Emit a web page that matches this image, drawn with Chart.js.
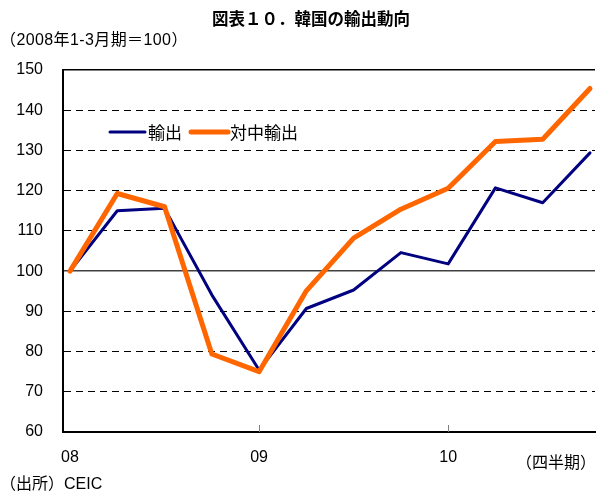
<!DOCTYPE html>
<html>
<head>
<meta charset="utf-8">
<script src="https://cdn.jsdelivr.net/npm/chart.js@4"></script>
<style>
body { margin: 0; background: #fff; }
canvas { display: block; }
</style>
</head>
<body>
<canvas id="exportChart" width="596" height="496"></canvas>
<script>
// 2008Q1 = 100, quarterly
const quarters = ["08Q1","08Q2","08Q3","08Q4","09Q1","09Q2","09Q3","09Q4","10Q1","10Q2","10Q3","10Q4"];
const exportValues = [100, 115, 115.6, 94.1, 75.4, 90.7, 95.3, 104.6, 101.8, 120.7, 117, 129.4];
const chinaValues = [100, 119.3, 116, 79.4, 75, 95.1, 108.2, 115.4, 120.6, 132.2, 132.8, 145.4];
const yearTicks = [0, 4, 8];
const yearLabels = ["08", "09", "10"];
const seriesNames = ["輸出", "対中輸出"];

const NAVY = "#000080";
const ORANGE = "#ff6600";
const latin = '"Liberation Sans", "Noto Sans CJK JP", sans-serif';
const cjk = '"Noto Sans CJK JP", sans-serif';

function toPoints(vals){
    return vals.map((v,i) => ({x: i, y: v}));
}

// title, notes, legend and inner tick marks
const extras = {
    id: "extras",
    afterDraw(chart){
        const ctx = chart.ctx;
        const xs = chart.scales.x;
        const area = chart.chartArea;
        ctx.save();

        // small tick marks pointing up into the plot
        ctx.strokeStyle = "#808080";
        ctx.lineWidth = 1;
        yearTicks.slice(1).forEach(v => {
            const px = Math.round(xs.getPixelForValue(v)) + 0.5;
            ctx.beginPath();
            ctx.moveTo(px, area.bottom);
            ctx.lineTo(px, area.bottom - 7);
            ctx.stroke();
        });

        ctx.fillStyle = "#000";
        ctx.textBaseline = "middle";

        ctx.font = "bold 16.5px " + cjk;
        ctx.textAlign = "center";
        ctx.fillText("図表１０．韓国の輸出動向", 311, 19);

        ctx.font = "16px " + latin;
        ctx.textAlign = "left";
        ctx.letterSpacing = "0.4px";
        ctx.fillText("（2008年1-3月期＝100）", 0, 41);
        ctx.letterSpacing = "0px";
        ctx.fillText("（出所）CEIC", 0, 485);
        ctx.textAlign = "right";
        ctx.fillText("（四半期）", 596, 464);

        // legend
        const ds = chart.data.datasets;
        const items = [
            {x0: 110, x1: 145, tx: 148},
            {x0: 191, x1: 228, tx: 230}
        ];
        items.forEach((it, i) => {
            ctx.strokeStyle = ds[i].borderColor;
            ctx.lineWidth = ds[i].borderWidth;
            ctx.lineCap = "round";
            ctx.beginPath();
            ctx.moveTo(it.x0, 132);
            ctx.lineTo(it.x1, 132);
            ctx.stroke();
            ctx.font = "17px " + cjk;
            ctx.textAlign = "left";
            ctx.fillText(seriesNames[i], it.tx, 133);
        });
        ctx.restore();
    }
};

new Chart(document.getElementById("exportChart"), {
    type: "line",
    data: {
        datasets: [{
            label: seriesNames[0],
            data: toPoints(exportValues),
            borderColor: NAVY,
            borderWidth: 3,
            pointRadius: 0,
            borderJoinStyle: "round",
            borderCapStyle: "round",
            order: 1
        }, {
            label: seriesNames[1],
            data: toPoints(chinaValues),
            borderColor: ORANGE,
            borderWidth: 5,
            pointRadius: 0,
            borderJoinStyle: "round",
            borderCapStyle: "round",
            order: 0
        }]
    },
    options: {
        responsive: false,
        animation: false,
        layout: { padding: { top: 70, left: 0, right: 1, bottom: 0 } },
        plugins: {
            legend: { display: false },
            tooltip: { enabled: false }
        },
        scales: {
            x: {
                type: "linear",
                min: -0.148,
                max: 11.106,
                afterFit(scale){ scale.height = 64; },
                afterBuildTicks(scale){ scale.ticks = yearTicks.map(v => ({value: v})); },
                grid: { drawOnChartArea: false, drawTicks: false },
                border: { color: "#000", width: 2 },
                ticks: {
                    padding: 16,
                    color: "#000",
                    font: { family: latin, size: 16 },
                    callback: v => yearLabels[yearTicks.indexOf(v)]
                }
            },
            y: {
                min: 60,
                max: 150,
                afterFit(scale){ scale.width = 63; },
                grid: {
                    drawTicks: false,
                    color: c => c.tick && c.tick.value === 100 ? "#404040" : (c.tick && c.tick.value === 60 ? "rgba(0,0,0,0)" : "#000"),
                    lineWidth: c => c.tick && (c.tick.value === 150 || c.tick.value === 100) ? 1.5 : 1
                },
                border: {
                    color: "#000",
                    width: 2,
                    dash: c => c.tick && (c.tick.value === 150 || c.tick.value === 100) ? [] : [7, 5]
                },
                ticks: {
                    stepSize: 10,
                    padding: 20,
                    color: "#000",
                    font: { family: latin, size: 16 }
                }
            }
        }
    },
    plugins: [extras]
});
</script>
</body>
</html>
